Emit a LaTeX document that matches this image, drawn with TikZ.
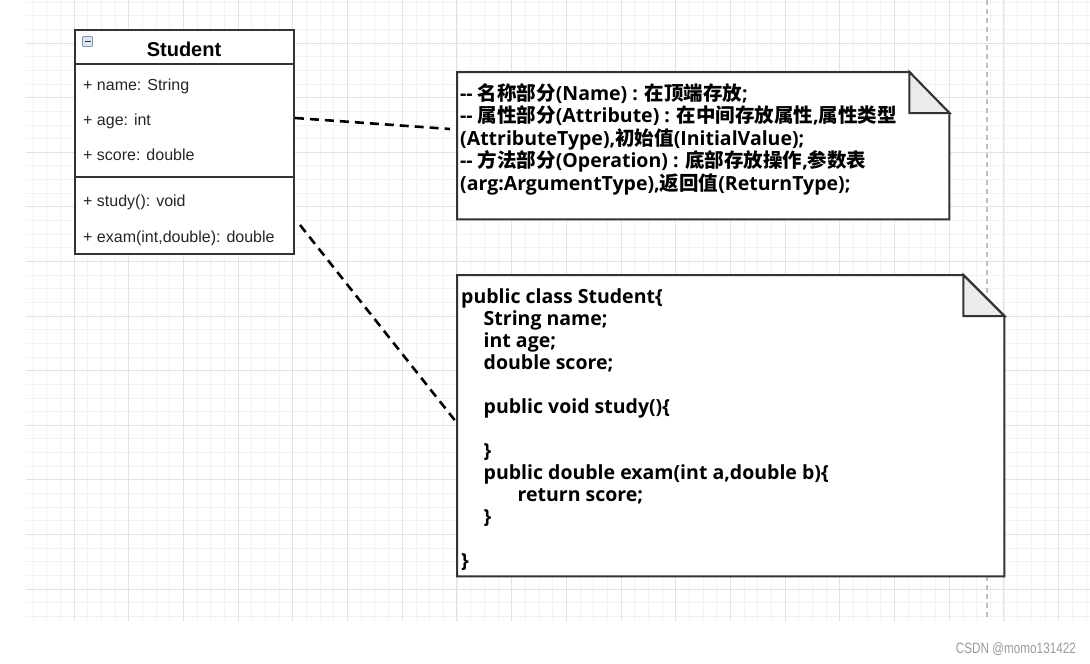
\documentclass[tikz,border=0pt]{standalone}
\usepackage{fontspec}
\setmainfont{Liberation Sans}
\newfontfamily\notelatin{Open Sans}
\newfontfamily\cjkfont{Noto Sans CJK SC}
\newfontfamily\wmfont[FakeStretch=0.78]{Liberation Sans}
\usetikzlibrary{calc}
\newcommand\zh[1]{{\cjkfont\bfseries\fontsize{19.5}{22}\selectfont #1}}
\definecolor{gridminor}{HTML}{F2F2F2}
\definecolor{gridmajor}{HTML}{E2E2E2}
\definecolor{edge}{HTML}{333333}
\definecolor{foldfill}{HTML}{EBEBEB}
\definecolor{iconfill}{HTML}{DCE6F2}
\definecolor{iconedge}{HTML}{7F97B5}
\definecolor{wmgray}{HTML}{9A9A9A}
\tikzset{
  minorline/.style={draw=gridminor, line width=0.8pt},
  majorline/.style={draw=gridmajor, line width=1pt},
  pagedash/.style={draw=black!25, line width=1.3pt, dash pattern=on 5pt off 4pt},
  clsbox/.style={draw=edge, line width=2pt, fill=white, inner sep=0pt},
  divider/.style={draw=edge, line width=1.3pt},
  membertext/.style={anchor=base west, inner sep=0pt, font=\fontsize{16}{19}\selectfont, text=black!85},
  titletext/.style={anchor=base, inner sep=0pt, font=\bfseries\fontsize{20}{24}\selectfont},
  notebox/.style={draw=none, inner sep=0pt},
  noteline/.style={draw=edge, line width=2pt, fill=white, line join=miter},
  foldline/.style={draw=edge, line width=2pt, fill=foldfill},
  notetext/.style={anchor=base west, inner sep=0pt, font=\notelatin\bfseries\fontsize{19.5}{22}\selectfont},
  conn/.style={draw=black, line width=2.6pt, dash pattern=on 9pt off 6pt},
  iconbox/.style={draw=iconedge, fill=iconfill, line width=0.8pt, minimum size=10pt, inner sep=0pt, rounded corners=1pt},
  wmtext/.style={anchor=base east, inner sep=0pt, text=wmgray, font=\wmfont\fontsize{15}{18}\selectfont}
}
\begin{document}
\begin{tikzpicture}[x=1pt,y=-1pt]
\useasboundingbox (0,0) rectangle (1090,664);
\fill[white] (0,0) rectangle (1090,664);
% grid
\foreach \k in {0,...,77} \draw[minorline] ({33+13.675*\k},0) -- ({33+13.675*\k},621);
\foreach \k in {0,...,45} \draw[minorline] (26,{2.05+13.65*\k}) -- (1090,{2.05+13.65*\k});
\foreach \k in {0,...,18} \draw[majorline] ({74+54.7*\k},0) -- ({74+54.7*\k},621);
\foreach \k in {0,...,10} \draw[majorline] (26,{43+54.6*\k}) -- (1090,{43+54.6*\k});
\draw[pagedash] (987,0) -- (987,621);

% class box
\node[clsbox, minimum width=219pt, minimum height=224pt, anchor=north west] (cls) at (74,29) {};
\draw[divider] (cls.west |- 0,64) -- (cls.east |- 0,64);
\draw[divider] (cls.west |- 0,177) -- (cls.east |- 0,177);
\node[iconbox] (icon) at (87.5,41.5) {};
\draw[edge, line width=1.3pt] ($(icon.center)+(-3,0)$) -- ($(icon.center)+(3,0)$);
\node[titletext] (title) at (184,56) {Student};
\node[membertext] (m1) at (83,90) {+ name: String};
\node[membertext] (m2) at (83,125) {+ age: int};
\node[membertext] (m3) at (83,160) {+ score: double};
\node[membertext] (m4) at (83,206.5) {+ study(): void};
\node[membertext] (m5) at (83,242.5) {+ exam(int,double): double};

% note 1
\node[notebox, minimum width=492pt, minimum height=147pt, anchor=north west] (n1) at (457,72) {};
\draw[noteline] (n1.north west) -- ($(n1.north east)+(-40,0)$) -- ($(n1.north east)+(0,41)$) -- (n1.south east) -- (n1.south west) -- cycle;
\draw[foldline] ($(n1.north east)+(-40,0)$) -- ($(n1.north east)+(-40,41)$) -- ($(n1.north east)+(0,41)$) -- cycle;
\node[notetext] (t11) at (460,100) {-- \zh{名称部分}(Name) : \zh{在顶端存放};};
\node[notetext] (t12) at (460,122.5) {-- \zh{属性部分}(Attribute) : \zh{在中间存放属性},\zh{属性类型}};
\node[notetext] (t13) at (460,145) {(AttributeType),\zh{初始值}(InitialValue);};
\node[notetext] (t14) at (460,167.5) {-- \zh{方法部分}(Operation) : \zh{底部存放操作},\zh{参数表}};
\node[notetext] (t15) at (460,190) {(arg:ArgumentType),\zh{返回值}(ReturnType);};

% note 2
\node[notebox, minimum width=547pt, minimum height=301pt, anchor=north west] (n2) at (457,275) {};
\draw[noteline] (n2.north west) -- ($(n2.north east)+(-41,0)$) -- ($(n2.north east)+(0,41)$) -- (n2.south east) -- (n2.south west) -- cycle;
\draw[foldline] ($(n2.north east)+(-41,0)$) -- ($(n2.north east)+(-41,41)$) -- ($(n2.north east)+(0,41)$) -- cycle;
\node[notetext] (c1) at (461,303) {public class Student\{};
\node[notetext] (c2) at (483.5,325) {String name;};
\node[notetext] (c3) at (483.5,347) {int age;};
\node[notetext] (c4) at (483.5,369) {double score;};
\node[notetext] (c5) at (483.5,413) {public void study()\{};
\node[notetext] (c6) at (483.5,457) {\}};
\node[notetext] (c7) at (483.5,479) {public double exam(int a,double b)\{};
\node[notetext] (c8) at (517.5,501) {return score;};
\node[notetext] (c9) at (483.5,523) {\}};
\node[notetext] (c10) at (461,567) {\}};

% connectors
\draw[conn] (cls.east |- 0,118) -- ($(n1.west |- 0,129)+(-7,0)$);
\draw[conn] ($(cls.east |- 0,225)+(5,0)$) -- (n2.west |- 0,423);

% watermark
\node[wmtext] (wm) at (1076,653) {CSDN @momo131422};
\end{tikzpicture}
\end{document}
